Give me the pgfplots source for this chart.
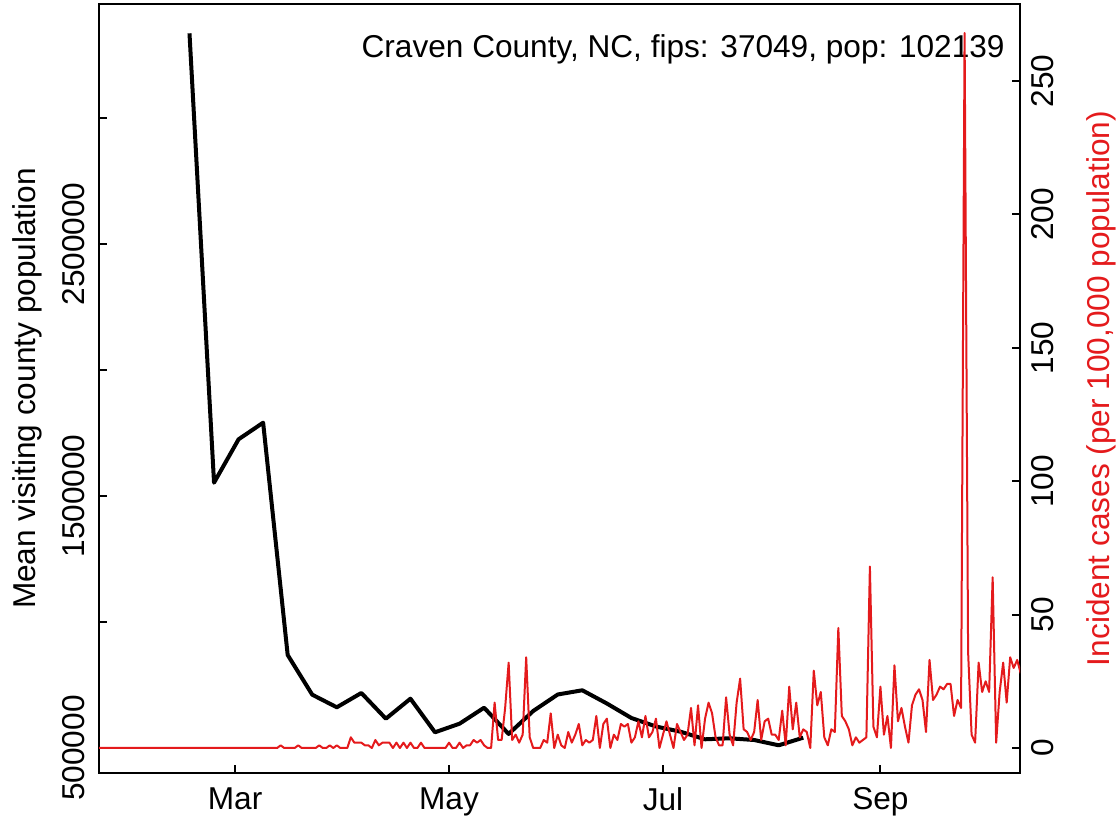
\documentclass[border=0pt]{standalone}
\usepackage{fontspec}
\setmainfont{Liberation Sans}
\usepackage{pgfplots}
\pgfplotsset{compat=1.18}
\definecolor{caseRed}{RGB}{228,26,28}
\newcommand{\rfont}{\fontsize{15.8pt}{19pt}\selectfont}
\begin{document}
\rfont
\begin{tikzpicture}
% left axis: weekly mean visiting population (black)
\begin{axis}[
  at={(0,0)}, anchor=south west,
  scale only axis, width=460.5pt, height=384.5pt,
  xmin=22.2, xmax=284.8,
  ymin=400800, ymax=3452400,
  scaled y ticks=false,
  axis line style={line width=1pt},
  tick style={black, line width=1pt},
  tick align=inside, tick pos=left,
  major tick length=4pt,
  xtick={61,122,183,245},
  xticklabels={Mar,May,Jul,Sep},
  ytick={500000,1000000,1500000,2000000,2500000,3000000},
  yticklabels={500000,,1500000,,2500000,},
  every tick label/.append style={font=\rfont},
  yticklabel style={rotate=90, anchor=south},
  yticklabel shift=1.5pt,
  xticklabel shift=2pt,
  ylabel={Mean visiting county population},
  ylabel style={font=\rfont, at={(axis description cs:-0.0945,0.5)}, anchor=north, inner sep=0pt},
]
\node[anchor=base east, inner sep=0pt, font=\rfont] at (rel axis cs:0.9837,0.931) {Craven County, NC, fips: 37049, pop: 102139};
\addplot[black, line width=2pt, line join=round] coordinates {
(48,3336000) (55,1552800) (62,1725000) (69,1790900) (76,869000) (83,711500)
(90,661500) (97,718300) (104,616300) (111,695600) (118,562300) (125,596400)
(132,659900) (139,555600) (146,646800) (153,712300) (160,729000) (167,676600)
(174,619000) (181,585300) (188,564700) (195,534500) (202,538500) (209,531700)
(216,510700) (223,540900)
};
\end{axis}
% right axis: daily incident cases per 100,000 (red)
\begin{axis}[
  at={(0,0)}, anchor=south west,
  scale only axis, width=460.5pt, height=384.5pt,
  xmin=22.2, xmax=284.8,
  ymin=-9.37, ymax=278.9,
  axis x line=none,
  xtick=\empty,
  axis y line*=right,
  axis line style={line width=1pt},
  tick style={black, line width=1pt},
  tick align=inside,
  major tick length=4pt,
  ytick={0,50,100,150,200,250},
  yticklabels={0,50,100,150,200,250},
  every tick label/.append style={font=\rfont},
  yticklabel style={rotate=90, anchor=north},
  ylabel={Incident cases (per 100,000 population)},
  ylabel style={font=\rfont, color=caseRed, at={(axis description cs:1.0717,0.5)}, anchor=north, inner sep=0pt},
]
\addplot[caseRed, line width=1pt, line join=round] coordinates {
(22,0) (23,0) (24,0) (25,0) (26,0) (27,0) (28,0) (29,0) (30,0) (31,0)
(32,0) (33,0) (34,0) (35,0) (36,0) (37,0) (38,0) (39,0) (40,0) (41,0)
(42,0) (43,0) (44,0) (45,0) (46,0) (47,0) (48,0) (49,0) (50,0) (51,0)
(52,0) (53,0) (54,0) (55,0) (56,0) (57,0) (58,0) (59,0) (60,0) (61,0)
(62,0) (63,0) (64,0) (65,0) (66,0) (67,0) (68,0) (69,0) (70,0) (71,0)
(72,0) (73,0) (74,1) (75,0) (76,0) (77,0) (78,0) (79,1) (80,0) (81,0)
(82,0) (83,0) (84,0) (85,1) (86,0) (87,0) (88,1) (89,0) (90,1) (91,0)
(92,0) (93,0) (94,4) (95,2) (96,2) (97,2) (98,1) (99,1) (100,0) (101,3)
(102,1) (103,2) (104,2) (105,2) (106,0) (107,2) (108,0) (109,2) (110,0) (111,2)
(112,0) (113,0) (114,2) (115,0) (116,0) (117,0) (118,0) (119,0) (120,0) (121,0)
(122,2) (123,0) (124,0) (125,2) (126,0) (127,1) (128,1) (129,3) (130,2) (131,3)
(132,1) (133,0) (134,0) (135,17) (136,3) (137,3) (138,15) (139,32) (140,3) (141,5)
(142,2) (143,5) (144,34) (145,4) (146,0) (147,0) (148,0) (149,3) (150,2) (151,13)
(152,0) (153,5) (154,1) (155,0) (156,6) (157,2) (158,5) (159,9) (160,1) (161,3)
(162,2) (163,3) (164,12) (165,0) (166,9) (167,11) (168,0) (169,5) (170,3) (171,9)
(172,8) (173,9) (174,2) (175,4) (176,10) (177,4) (178,12) (179,4) (180,6) (181,11)
(182,0) (183,5) (184,10) (185,5) (186,0) (187,9) (188,6) (189,3) (190,5) (191,15)
(192,1) (193,16) (194,0) (195,11) (196,17) (197,13) (198,4) (199,1) (200,1) (201,19)
(202,5) (203,1) (204,17) (205,26) (206,7) (207,6) (208,3) (209,6) (210,18) (211,3)
(212,10) (213,11) (214,5) (215,5) (216,3) (217,14) (218,1) (219,23) (220,7) (221,17)
(222,4) (223,7) (224,6) (225,0) (226,29) (227,16) (228,21) (229,4) (230,1) (231,7)
(232,6) (233,45) (234,12) (235,10) (236,7) (237,1) (238,4) (239,2) (240,3) (241,4)
(242,68) (243,8) (244,4) (245,23) (246,5) (247,12) (248,0) (249,31) (250,10) (251,15)
(252,8) (253,2) (254,16) (255,20) (256,22) (257,18) (258,6) (259,33) (260,18) (261,20)
(262,23) (263,22) (264,24) (265,24) (266,12) (267,18) (268,15) (269,268) (270,36) (271,5)
(272,2) (273,32) (274,21) (275,25) (276,21) (277,64) (278,2) (279,21) (280,32) (281,17)
(282,34) (283,30) (284,33) (285,28)
};
\end{axis}
\pgfresetboundingbox
\path[use as bounding box] (-49.5pt,-24.5pt) rectangle (510pt,386.5pt);
\end{tikzpicture}
\end{document}
